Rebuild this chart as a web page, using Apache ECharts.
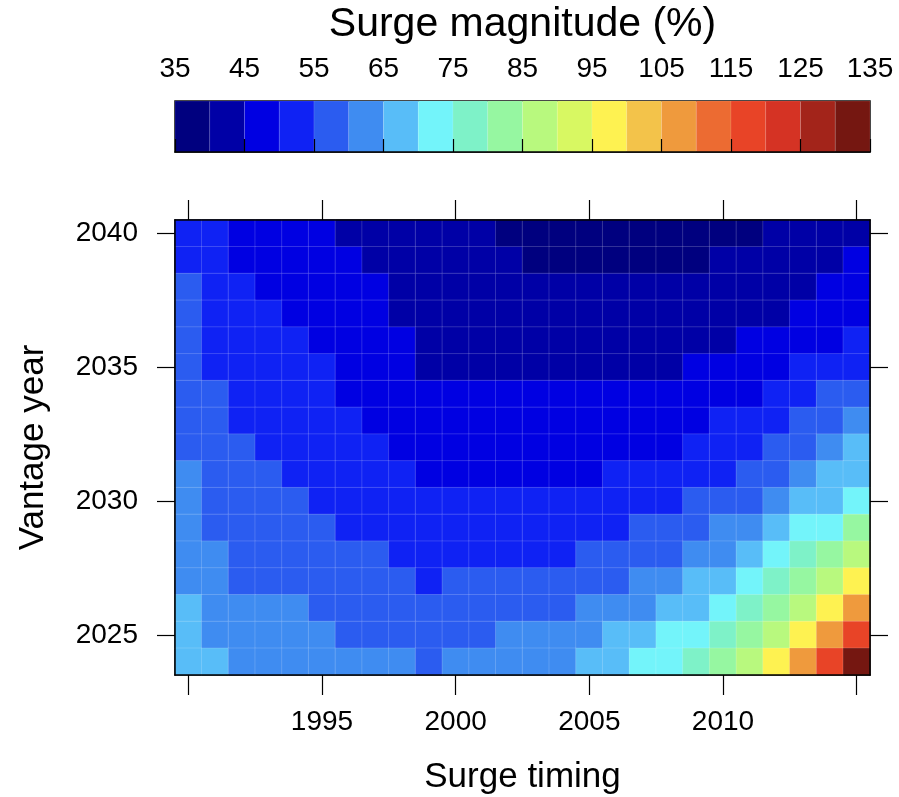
<!DOCTYPE html>
<html><head><meta charset="utf-8">
<script src="https://cdn.jsdelivr.net/npm/echarts@6/dist/echarts.min.js"></script>
<style>html,body{margin:0;padding:0;background:#fff}#c{width:899px;height:797px}</style>
</head><body><div id="c"></div>
<script>
// ---- data ----
const surgeYears = [1990,1991,1992,1993,1994,1995,1996,1997,1998,1999,2000,2001,2002,2003,2004,2005,2006,2007,2008,2009,2010,2011,2012,2013,2014,2015];
const vantageYears = [2024,2025,2026,2027,2028,2029,2030,2031,2032,2033,2034,2035,2036,2037,2038,2039,2040];
const xTickYears = [1990,1995,2000,2005,2010,2015];
const xLabelYears = [1995,2000,2005,2010];
const yTickYears = [2025,2030,2035,2040];
const colorBreaks = [35,40,45,50,55,60,65,70,75,80,85,90,95,100,105,110,115,120,125,130,135];
const colorbarTicks = [35,45,55,65,75,85,95,105,115,125,135];
// surge magnitude (%) by vantage year (rows, top = 2040) and surge timing (columns, 1990..2015)
const rowYears = [2040,2039,2038,2037,2036,2035,2034,2033,2032,2031,2030,2029,2028,2027,2026,2025,2024];
const magnitudeRows = [
 [52,52,47,47,47,47,42,42,42, 42,42,42,37,37,37,37,37,37, 37,37,37,37,42,42,42,42],
 [52,52,47,47,47,47,47,42,42, 42,42,42,42,37,37,37,37,37, 37,37,42,42,42,42,42,47],
 [57,52,52,47,47,47,47,47,42, 42,42,42,42,42,42,42,42,42, 42,42,42,42,42,42,47,47],
 [57,52,52,52,47,47,47,47,42, 42,42,42,42,42,42,42,42,42, 42,42,42,42,42,47,47,47],
 [57,52,52,52,52,47,47,47,47, 42,42,42,42,42,42,42,42,42, 42,42,42,47,47,47,47,52],
 [57,52,52,52,52,52,47,47,47, 42,42,42,42,42,42,42,42,42, 42,47,47,47,47,52,52,52],
 [57,57,52,52,52,52,47,47,47, 47,47,47,47,47,47,47,47,47, 47,47,47,47,52,52,57,57],
 [57,57,52,52,52,52,52,47,47, 47,47,47,47,47,47,47,47,47, 47,47,52,52,52,57,57,62],
 [57,57,57,52,52,52,52,52,47, 47,47,47,47,47,47,47,47,47, 47,52,52,52,57,57,62,67],
 [62,57,57,57,52,52,52,52,52, 47,47,47,47,47,47,47,52,52, 52,52,52,57,57,62,67,67],
 [62,57,57,57,57,52,52,52,52, 52,52,52,52,52,52,52,52,52, 52,57,57,57,62,67,67,72],
 [62,57,57,57,57,57,52,52,52, 52,52,52,52,52,52,52,52,57, 57,57,62,62,67,72,72,82],
 [62,62,57,57,57,57,57,57,52, 52,52,52,52,52,52,57,57,57, 57,62,62,67,72,77,82,87],
 [62,62,57,57,57,57,57,57,57, 52,57,57,57,57,57,57,57,62, 62,67,67,72,77,82,87,97],
 [67,62,62,62,62,57,57,57,57, 57,57,57,57,57,57,62,62,62, 67,67,72,77,82,87,97,107],
 [67,62,62,62,62,62,57,57,57, 57,57,57,62,62,62,62,67,67, 72,72,77,82,87,97,107,117],
 [67,67,62,62,62,62,62,62,62, 57,62,62,62,62,62,67,67,72, 72,77,82,87,97,107,117,132]
];
// ---- styles ----
const palette = ['#00007F','#0000A6','#0000E2','#0F22F4','#2B5CF0','#3F8CF1','#58BDF8','#73F4FA','#7EF2C8','#96F7A1',
                 '#B8F97E','#D8F862','#FEF251','#F3C34A','#EF9A3D','#EC6B32','#E84427','#D53324','#A3241A','#751711'];
const FONT = 'Liberation Sans, Arial, Helvetica, sans-serif';

const heatData = [];
magnitudeRows.forEach((row, r) => {
  const yi = vantageYears.indexOf(rowYears[r]);
  row.forEach((v, c) => heatData.push([c, yi, v]));
});
const pieces = colorBreaks.slice(0, -1).map((lo, i) => ({gte: lo, lt: colorBreaks[i + 1], color: palette[i]}));
const barData = colorBreaks.slice(0, -1).map((lo, i) => [lo, colorBreaks[i + 1], i]);

const axLine = {show: true, lineStyle: {color: '#000', width: 1.5}};
const tickStyle = {color: '#000', width: 1.2};
const xTickFn = (i, v) => xTickYears.indexOf(+v) >= 0;
const xLabFn = (i, v) => xLabelYears.indexOf(+v) >= 0;
const yTickFn = (i, v) => yTickYears.indexOf(+v) >= 0;

const chart = echarts.init(document.getElementById('c'), null, {renderer: 'canvas'});
chart.setOption({
  animation: false,
  backgroundColor: '#fff',
  textStyle: {fontFamily: FONT},
  grid: [
    {left: 175, top: 220, width: 695, height: 455, show: true, borderColor: '#000', borderWidth: 1.5, backgroundColor: 'transparent',
     containLabel: false, outerBoundsMode: 'none'},
    {left: 175, top: 101, width: 695, height: 51, show: true, borderColor: '#000', borderWidth: 1.5, backgroundColor: 'transparent',
     containLabel: false, outerBoundsMode: 'none'}
  ],
  xAxis: [
    {type: 'category', gridIndex: 0, data: surgeYears.map(String), position: 'bottom', z: 10,
     axisLine: axLine,
     axisTick: {show: true, alignWithLabel: true, interval: xTickFn, length: 20, inside: false, lineStyle: tickStyle},
     axisLabel: {show: true, interval: xLabFn, fontSize: 28, color: '#000', margin: 33, fontFamily: FONT},
     splitLine: {show: false},
     name: 'Surge timing', nameLocation: 'middle', nameGap: 85,
     nameTextStyle: {fontSize: 35, color: '#000', fontFamily: FONT}},
    {type: 'category', gridIndex: 0, data: surgeYears.map(String), position: 'top', z: 10,
     axisLine: axLine,
     axisTick: {show: true, alignWithLabel: true, interval: xTickFn, length: 20, inside: false, lineStyle: tickStyle},
     axisLabel: {show: false}, splitLine: {show: false}},
    {type: 'value', gridIndex: 1, min: 35, max: 135, position: 'top', z: 10,
     axisLine: axLine,
     axisTick: {show: true, customValues: colorbarTicks, length: 13, inside: false, lineStyle: tickStyle},
     axisLabel: {show: true, customValues: colorbarTicks, fontSize: 28, color: '#000', margin: 18, fontFamily: FONT},
     splitLine: {show: false},
     name: 'Surge magnitude (%)', nameLocation: 'middle', nameGap: 56,
     nameTextStyle: {fontSize: 41, color: '#000', fontFamily: FONT}}
  ],
  yAxis: [
    {type: 'category', gridIndex: 0, data: vantageYears.map(String), position: 'left', z: 10,
     axisLine: axLine,
     axisTick: {show: true, alignWithLabel: true, interval: yTickFn, length: 18, inside: false, lineStyle: tickStyle},
     axisLabel: {show: true, interval: yTickFn, fontSize: 28, color: '#000', margin: 37, fontFamily: FONT},
     splitLine: {show: false},
     name: 'Vantage year', nameLocation: 'middle', nameGap: 124, nameRotate: 90,
     nameTextStyle: {fontSize: 35, color: '#000', fontFamily: FONT}},
    {type: 'category', gridIndex: 0, data: vantageYears.map(String), position: 'right', z: 10,
     axisLine: axLine,
     axisTick: {show: true, alignWithLabel: true, interval: yTickFn, length: 18, inside: false, lineStyle: tickStyle},
     axisLabel: {show: false}, splitLine: {show: false}},
    {type: 'value', gridIndex: 1, min: 0, max: 1, show: false}
  ],
  visualMap: {type: 'piecewise', show: false, seriesIndex: 0, dimension: 2, pieces: pieces},
  series: [
    {type: 'heatmap', xAxisIndex: 0, yAxisIndex: 0, data: heatData, progressive: 0,
     itemStyle: {borderColor: 'rgba(255,255,255,0.16)', borderWidth: 1},
     emphasis: {disabled: true}},
    {type: 'custom', xAxisIndex: 2, yAxisIndex: 2, data: barData, silent: true,
     encode: {x: [0, 1], y: 2},
     renderItem: function (params, api) {
       const p0 = api.coord([api.value(0), 0]);
       const p1 = api.coord([api.value(1), 1]);
       return {type: 'rect',
         shape: {x: p0[0], y: p1[1], width: p1[0] - p0[0], height: p0[1] - p1[1]},
         style: {fill: palette[api.value(2)], stroke: 'rgba(255,255,255,0.18)', lineWidth: 0.6}};
     }}
  ]
});
</script></body></html>
